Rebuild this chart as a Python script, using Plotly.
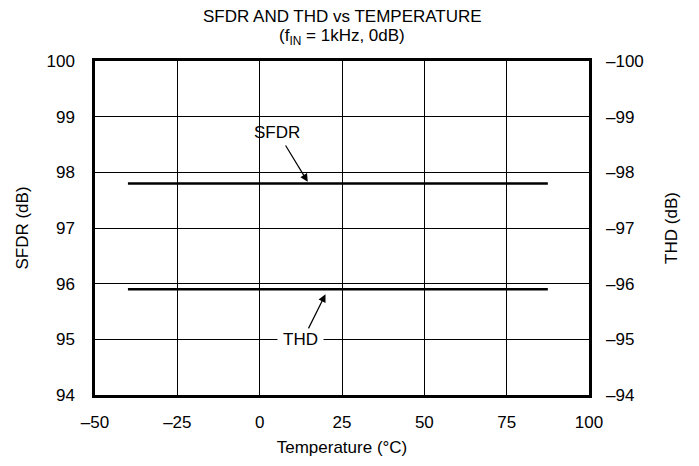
import plotly.graph_objects as go

# Data
temperature = [-40, 87.5]
sfdr_db = [97.8, 97.8]
thd_db = [-95.9, -95.9]

x_tick_vals = [-50, -25, 0, 25, 50, 75, 100]
x_tick_text = ["–50", "–25", "0", "25", "50", "75", "100"]
y_tick_vals = [94, 95, 96, 97, 98, 99, 100]
y_tick_text = ["94", "95", "96", "97", "98", "99", "100"]
y2_tick_vals = [-94, -95, -96, -97, -98, -99, -100]
y2_tick_text = ["–94", "–95", "–96", "–97", "–98", "–99", "–100"]

FONT = "Liberation Sans, Arial, sans-serif"
FS = 17

fig = go.Figure()
fig.add_trace(go.Scatter(x=temperature, y=sfdr_db, mode="lines",
                         line=dict(color="black", width=2.5), name="SFDR",
                         showlegend=False))
fig.add_trace(go.Scatter(x=temperature, y=thd_db, mode="lines", yaxis="y2",
                         line=dict(color="black", width=2.5), name="THD",
                         showlegend=False))

# Title lines
fig.add_annotation(xref="paper", yref="paper", x=0.5, y=1, yanchor="middle",
                   yshift=45, text="SFDR AND THD vs TEMPERATURE", showarrow=False,
                   font=dict(family=FONT, size=FS, color="black"))
fig.add_annotation(xref="paper", yref="paper", x=0.5, y=1, yanchor="middle",
                   yshift=24, text="(f<sub>IN</sub> = 1kHz, 0dB)", showarrow=False,
                   font=dict(family=FONT, size=FS, color="black"))

# Annotations: labels
fig.add_annotation(x=5.2, y=98.72, text="SFDR", showarrow=False,
                   font=dict(family=FONT, size=FS, color="black"))
fig.add_annotation(x=14.6, y=97.83, ax=7.6, ay=98.51, axref="x", ayref="y",
                   text="", showarrow=True, arrowhead=2, arrowsize=1.3,
                   arrowwidth=1.2, arrowcolor="black")
fig.add_annotation(x=12.5, y=95.0, text="THD", showarrow=False,
                   bgcolor="white", borderpad=5,
                   font=dict(family=FONT, size=FS, color="black"))
fig.add_annotation(x=20, y=95.81, ax=14.6, ay=95.17, axref="x", ayref="y",
                   text="", showarrow=True, arrowhead=2, arrowsize=1.3,
                   arrowwidth=1.2, arrowcolor="black")

fig.update_layout(
    width=699, height=466,
    margin=dict(l=87, r=118, t=53, b=79),
    paper_bgcolor="white", plot_bgcolor="white",
    font=dict(family=FONT, size=FS, color="black"),
    xaxis=dict(range=[-50, 100], tickvals=x_tick_vals, ticktext=x_tick_text,
               showgrid=True, gridcolor="black", gridwidth=1,
               showline=True, linecolor="black", linewidth=2.5, mirror=True,
               zeroline=False, ticks="", ticklabelstandoff=10,
               automargin=False,
               title=dict(text="Temperature (°C)", standoff=10,
                          font=dict(family=FONT, size=FS))),
    yaxis=dict(range=[94, 100], tickvals=y_tick_vals, ticktext=y_tick_text,
               showgrid=True, gridcolor="black", gridwidth=1,
               showline=True, linecolor="black", linewidth=2.5, mirror=True,
               zeroline=False, ticks="", ticklabelstandoff=14,
               automargin=False,
               title=dict(text="SFDR (dB)", standoff=14,
                          font=dict(family=FONT, size=FS))),
    yaxis2=dict(range=[-94, -100], tickvals=y2_tick_vals, ticktext=y2_tick_text,
                overlaying="y", side="right", showgrid=False, zeroline=False,
                showline=False, ticks="", ticklabelstandoff=16,
                automargin=False,
                title=dict(text="THD (dB)", standoff=22,
                           font=dict(family=FONT, size=FS))),
)

fig.write_html("out.html")
